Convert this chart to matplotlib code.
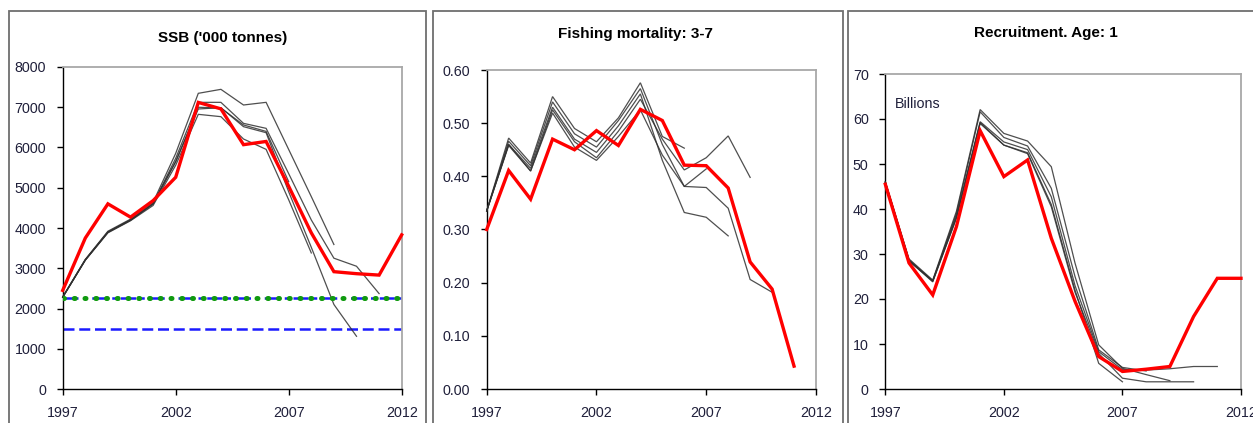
import matplotlib
matplotlib.use("Agg")
import matplotlib.pyplot as plt
from matplotlib.patches import Rectangle

plt.rcParams['font.family'] = ['Liberation Sans', 'DejaVu Sans']

# ---------------- data ----------------
years = list(range(1997, 2013))

# SSB ('000 tonnes), current assessment
ssb_current = [2450, 3750, 4600, 4270, 4680, 5260, 7120, 6960, 6070, 6150,
               5035, 3880, 2915, 2865, 2830, 3830]
# previous assessments (retrospective runs), each starting in 1997
ssb_runs = [
    [2280, 3210, 3900, 4200, 4600, 5650, 7000, 6980, 6560, 6400, 5150],
    [2280, 3200, 3880, 4180, 4560, 5560, 6824, 6766, 6211, 5954, 4700, 3380],
    [2290, 3220, 3920, 4220, 4640, 5855, 7346, 7445, 7056, 7122, 5950, 4780, 3590],
    [2280, 3210, 3900, 4200, 4610, 5648, 6957, 6990, 6518, 6368, 4900, 3520, 2100, 1310],
    [2280, 3200, 3890, 4190, 4600, 5731, 7122, 7122, 6600, 6476, 5350, 4200, 3250, 3050, 2370],
]
ssb_bpa = 2250   # precautionary reference level
ssb_blim = 1500  # limit reference level

# Fishing mortality, ages 3-7
f_current = [0.300, 0.411, 0.357, 0.470, 0.450, 0.486, 0.458, 0.526, 0.505,
             0.421, 0.420, 0.378, 0.239, 0.188, 0.043]
f_runs = [
    [0.335, 0.472, 0.425, 0.550, 0.490, 0.465, 0.510, 0.576, 0.475, 0.453],
    [0.335, 0.466, 0.420, 0.540, 0.480, 0.455, 0.505, 0.565, 0.460, 0.381, 0.414],
    [0.335, 0.460, 0.415, 0.530, 0.470, 0.445, 0.495, 0.555, 0.430, 0.332, 0.323, 0.288],
    [0.335, 0.460, 0.410, 0.525, 0.465, 0.435, 0.485, 0.545, 0.470, 0.412, 0.435, 0.476, 0.398],
    [0.335, 0.458, 0.410, 0.519, 0.455, 0.430, 0.475, 0.525, 0.440, 0.381, 0.379, 0.340, 0.206, 0.182],
]

# Recruitment at age 1 (billions)
rec_current = [45.5, 28.0, 20.9, 36.1, 57.4, 47.2, 50.9, 33.5, 19.5, 7.2,
               3.9, 4.4, 5.0, 16.1, 24.6, 24.6]
rec_runs = [
    [45.8, 28.5, 24.0, 38.0, 59.2, 54.2, 52.5, 41.0, 22.0, 5.7, 1.6],
    [46.0, 28.7, 24.0, 39.0, 61.6, 55.9, 54.0, 44.6, 25.0, 8.7, 4.8, 4.0],
    [46.0, 28.9, 24.2, 39.5, 62.1, 56.8, 55.1, 49.4, 28.0, 9.8, 4.6, 3.2, 1.85],
    [45.8, 28.5, 23.8, 38.0, 59.0, 54.2, 52.3, 40.5, 21.5, 7.9, 2.4, 1.6, 1.6, 1.6],
    [46.0, 28.5, 24.0, 38.5, 59.4, 54.9, 53.2, 42.7, 23.0, 8.3, 4.3, 4.2, 4.5, 5.0, 5.0],
]

x_ticks = [1997, 2002, 2007, 2012]
ssb_ticks = list(range(0, 8001, 1000))
f_ticks = [0.0, 0.1, 0.2, 0.3, 0.4, 0.5, 0.6]
rec_ticks = list(range(0, 71, 10))

# ---------------- styling ----------------
W, H = 1253, 423
fig = plt.figure(figsize=(W / 100, H / 100), dpi=100)
fig.patch.set_facecolor('white')

label_col = '#1f1f3a'
run_col = '#303030'
red = '#ff0000'


def px_axes(left, top, right, bottom):
    return fig.add_axes([left / W, 1 - bottom / H, (right - left) / W, (bottom - top) / H])


def style(ax, ylim, yticks, fmt):
    ax.set_xlim(1997, 2012)
    ax.set_ylim(*ylim)
    ax.set_xticks(x_ticks)
    ax.set_xticklabels([str(t) for t in x_ticks])
    ax.set_yticks(yticks)
    ax.set_yticklabels([fmt(v) for v in yticks])
    for side in ('top', 'right'):
        ax.spines[side].set_color('#a8a8a8')
        ax.spines[side].set_linewidth(1.3)
    for side in ('left', 'bottom'):
        ax.spines[side].set_color('black')
        ax.spines[side].set_linewidth(1.0)
    ax.tick_params(axis='both', direction='out', length=4, width=1.0,
                   colors='black', labelcolor=label_col, labelsize=10.3)
    ax.tick_params(axis='y', pad=8)
    ax.tick_params(axis='x', pad=8)


def draw_runs(ax, runs, current):
    for r in runs:
        ax.plot(years[:len(r)], r, color=run_col, lw=0.9, alpha=0.85,
                solid_joinstyle='miter', clip_on=False, zorder=3)
    ax.plot(years[:len(current)], current, color=red, lw=2.4,
            solid_joinstyle='miter', clip_on=False, zorder=4)


# panel frames
for x0, x1 in [(9, 426), (433, 843), (848, 1262)]:
    fig.patches.append(Rectangle((x0 / W, -0.1), (x1 - x0) / W, 1.1 - 11 / H,
                                 transform=fig.transFigure, fill=False,
                                 edgecolor='#6e6e6e', lw=1.3))

# ---- SSB ----
ax1 = px_axes(62.7, 67, 401.7, 389)
style(ax1, (0, 8000), ssb_ticks, lambda v: f"{v:d}")
ax1.plot([1997, 2012], [ssb_bpa, ssb_bpa], color='#1a1aff', lw=1.8,
         linestyle=(0, (6, 2, 1.5, 2)), zorder=2)
ax1.plot([1997, 2012], [ssb_bpa, ssb_bpa], color='#109a10', lw=3.6,
         linestyle=(0, (0.2, 1.95)), dash_capstyle='round', zorder=5)
ax1.plot([1997, 2012], [ssb_blim, ssb_blim], color='#1a1aff', lw=1.8,
         linestyle=(0, (4.4, 1.9)), zorder=2)
draw_runs(ax1, ssb_runs, ssb_current)
fig.text(223 / W, 1 - 38 / H, "SSB ('000 tonnes)", ha='center', va='center',
         fontsize=11, fontweight='bold', color='black')

# ---- Fishing mortality ----
ax2 = px_axes(486.7, 70, 816, 389)
style(ax2, (0, 0.6), f_ticks, lambda v: f"{v:.2f}")
draw_runs(ax2, f_runs, f_current)
fig.text(635 / W, 1 - 34 / H, "Fishing mortality: 3-7", ha='center', va='center',
         fontsize=11, fontweight='bold', color='black')

# ---- Recruitment ----
ax3 = px_axes(885.3, 74, 1241, 389)
style(ax3, (0, 70), rec_ticks, lambda v: f"{v:d}")
draw_runs(ax3, rec_runs, rec_current)
ax3.text(0.028, 0.905, "Billions", transform=ax3.transAxes, ha='left', va='center',
         fontsize=10.3, color=label_col)
fig.text(1046 / W, 1 - 33 / H, "Recruitment. Age: 1", ha='center', va='center',
         fontsize=11, fontweight='bold', color='black')

fig.savefig("out.png", dpi=100, facecolor='white')
